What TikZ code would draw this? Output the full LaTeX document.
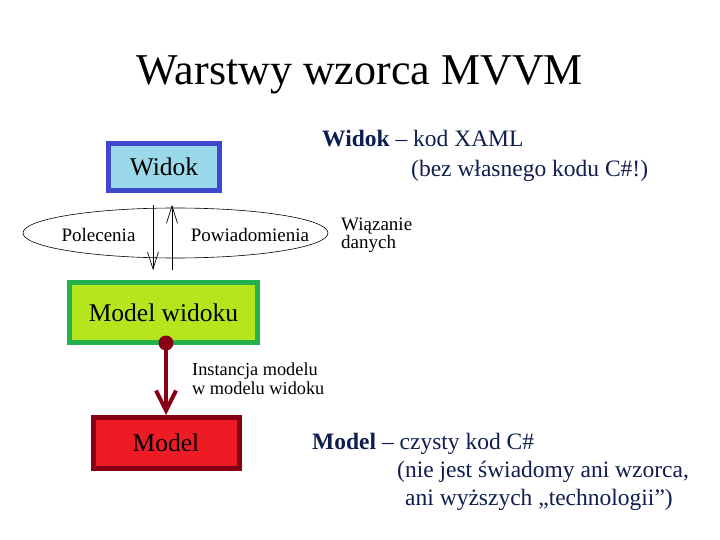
\documentclass[tikz,border=0pt]{standalone}
\usepackage{fontspec}
\setmainfont{Liberation Serif}
\usetikzlibrary{arrows.meta,shapes.geometric}
\definecolor{vblue}{RGB}{63,72,204}
\definecolor{vbluefill}{RGB}{153,217,234}
\definecolor{vgreen}{RGB}{34,177,76}
\definecolor{vlime}{RGB}{181,230,29}
\definecolor{vred}{RGB}{237,28,36}
\definecolor{vdark}{RGB}{136,0,21}
\definecolor{navy}{RGB}{15,30,80}
\tikzset{
  box/.style={draw, line width=5pt, rectangle, inner sep=0pt, font=\fontsize{25.5}{30}\selectfont},
  lbl/.style={inner sep=0pt, anchor=base, font=\fontsize{19}{22}\selectfont},
  desc/.style={inner sep=0pt, anchor=base west, text=navy, font=\fontsize{23.5}{28}\selectfont},
  thinarrow/.style={line width=0.7pt, -{Straight Barb[length=17pt,width=11pt,line width=0.7pt]}},
}
\begin{document}
\begin{tikzpicture}[x=1pt,y=-1pt]
\useasboundingbox (0,0) rectangle (720,540);
\fill[white] (0,0) rectangle (720,540);

\node[inner sep=0pt, anchor=base, font=\fontsize{44}{52}\selectfont] (title) at (360,85) {Warstwy wzorca MVVM};

% boxes
\node[box, fill=vbluefill, draw=vblue, minimum width=111pt, minimum height=47pt] (widok) at (164,167) {Widok};
\node[box, fill=vlime, draw=vgreen, minimum width=188pt, minimum height=60pt] (vm) at (163.5,312.5) {Model widoku};
\node[box, fill=vred, draw=vdark, minimum width=146pt, minimum height=51pt] (model) at (166,443) {Model};

% data binding ellipse
\node[ellipse, draw, line width=0.6pt, minimum width=305pt, minimum height=50pt, inner sep=0pt] (binding) at (175.5,233) {};
\node[lbl] (polecenia) at (98.5,241) {Polecenia};
\node[lbl] (powiad) at (250,241) {Powiadomienia};
\node[lbl, anchor=base west] (wiaz1) at (341,230) {Wiązanie};
\node[lbl, anchor=base west] (wiaz2) at (341,248) {danych};

% commands / notifications arrows
\coordinate (cmdTop) at (153,205);
\coordinate (cmdBot) at (153,270);
\coordinate (ntfBot) at (172,270);
\coordinate (ntfTop) at (172,205);
\draw[thinarrow] (cmdTop) -- (cmdBot);
\draw[thinarrow] (ntfBot) -- (ntfTop);

% model instance connector
\node[circle, fill=vdark, inner sep=0pt, minimum size=15pt] (dot) at (166,343) {};
\draw[vdark, line width=4pt, -{Straight Barb[length=20pt,width=20pt,line width=4pt]}] (dot.center) -- (model.north);
\node[lbl, anchor=base west, font=\fontsize{18.3}{22}\selectfont] (inst1) at (192,375) {Instancja modelu};
\node[lbl, anchor=base west, font=\fontsize{18.3}{22}\selectfont] (inst2) at (192,394) {w modelu widoku};

% descriptions
\node[desc] (wd1) at (322,147) {\textbf{Widok} – kod XAML};
\node[desc] (wd2) at (411,177) {(bez własnego kodu C\#!)};
\node[desc] (md1) at (312,449) {\textbf{Model} – czysty kod C\#};
\node[desc] (md2) at (397,477) {(nie jest świadomy ani wzorca,};
\node[desc] (md3) at (405,505) {ani wyższych „technologii”)};
\end{tikzpicture}
\end{document}
